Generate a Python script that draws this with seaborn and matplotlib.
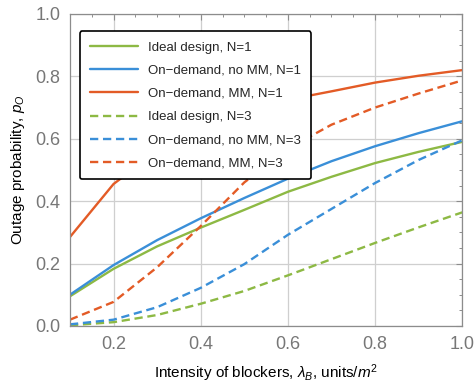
import numpy as np
import pandas as pd
import matplotlib
matplotlib.use("Agg")
import matplotlib.pyplot as plt
import seaborn as sns
from matplotlib.ticker import MultipleLocator

# --- data ---
lam = [0.1, 0.2, 0.3, 0.4, 0.5, 0.6, 0.7, 0.8, 0.9, 1.0]

ideal_n1 = [0.095, 0.183, 0.255, 0.315, 0.372, 0.43, 0.478, 0.522, 0.558, 0.59]
nomm_n1 = [0.10, 0.195, 0.275, 0.345, 0.41, 0.472, 0.528, 0.576, 0.618, 0.656]
mm_n1 = [0.285, 0.455, 0.56, 0.635, 0.69, 0.725, 0.752, 0.78, 0.802, 0.82]
ideal_n3 = [0.002, 0.012, 0.035, 0.071, 0.112, 0.162, 0.214, 0.266, 0.316, 0.364]
nomm_n3 = [0.005, 0.02, 0.06, 0.122, 0.198, 0.292, 0.375, 0.458, 0.532, 0.595]
mm_n3 = [0.02, 0.077, 0.188, 0.32, 0.46, 0.568, 0.645, 0.70, 0.745, 0.787]

labels = [
    "Ideal design, N=1",
    "On\u2212demand, no MM, N=1",
    "On\u2212demand, MM, N=1",
    "Ideal design, N=3",
    "On\u2212demand, no MM, N=3",
    "On\u2212demand, MM, N=3",
]
series = [ideal_n1, nomm_n1, mm_n1, ideal_n3, nomm_n3, mm_n3]

green = "#8DB944"
blue = "#3A8FD8"
orange = "#E35B26"
palette = dict(zip(labels, [green, blue, orange, green, blue, orange]))
dashes = dict(zip(labels, [""] * 3 + [(3.5, 2.0)] * 3))

df = pd.concat(
    [pd.DataFrame({"lam": lam, "p": s, "series": lab}) for lab, s in zip(labels, series)],
    ignore_index=True,
)

sns.set_style("white")
plt.rcParams["font.family"] = ["Liberation Sans", "DejaVu Sans"]
plt.rcParams["mathtext.fontset"] = "custom"
plt.rcParams["mathtext.rm"] = "Liberation Sans"
plt.rcParams["mathtext.it"] = "Liberation Sans:italic"

fig = plt.figure(figsize=(4.76, 3.88), dpi=100)
ax = fig.add_axes([0.147, 0.16, 0.824, 0.804])

sns.lineplot(
    data=df, x="lam", y="p", hue="series", style="series",
    hue_order=labels, style_order=labels,
    palette=palette, dashes=dashes, linewidth=1.7, ax=ax,
)

ax.set_xlim(0.1, 1.0)
ax.set_ylim(0.0, 1.0)
ax.xaxis.set_major_locator(MultipleLocator(0.2))
ax.yaxis.set_major_locator(MultipleLocator(0.2))
ax.xaxis.set_minor_locator(MultipleLocator(0.05))
ax.yaxis.set_minor_locator(MultipleLocator(0.05))
ax.grid(True, which="major", color="#cfcfcf", linewidth=0.9)
ax.set_axisbelow(True)

for sp in ax.spines.values():
    sp.set_color("#8c8c8c")
    sp.set_linewidth(0.9)
ax.tick_params(which="both", direction="in", top=True, right=True, color="#8c8c8c",
               labelcolor="#777777", labelsize=13)
ax.tick_params(which="major", length=4, width=0.8, pad=7)
ax.tick_params(which="minor", length=2.5, width=0.7)

ax.set_xlabel(r"Intensity of blockers, $\lambda_B$, units/$m^2$", fontsize=11,
              color="black", labelpad=7)
ax.set_ylabel(r"Outage probability, $p_O$", fontsize=11, color="black", labelpad=6)

leg = ax.legend(loc="upper left", bbox_to_anchor=(0.008, 0.965), fontsize=9.5,
                handlelength=3.7, handletextpad=0.75, labelspacing=0.83,
                borderpad=0.75, fancybox=True, framealpha=1.0)
leg.get_frame().set_edgecolor("black")
leg.get_frame().set_linewidth(1.2)

fig.savefig("out.png", dpi=100)
